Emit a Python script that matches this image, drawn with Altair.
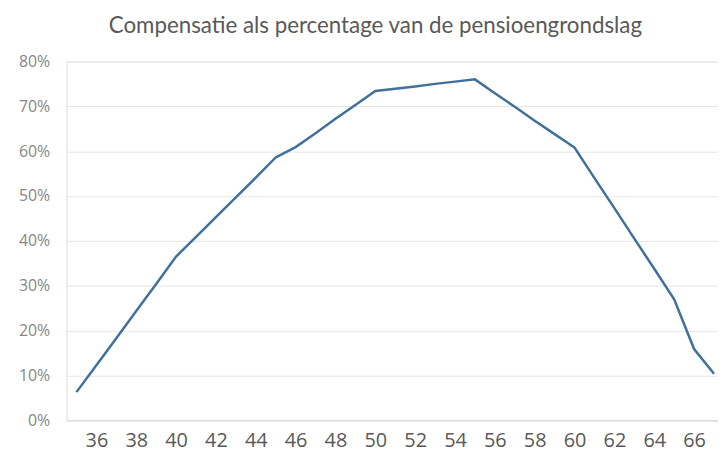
import altair as alt
import pandas as pd

# Data
ages = list(range(35, 68))
compensatie_pct = [6.3, 12.3, 18.3, 24.4, 30.4,
                   36.5, 40.9, 45.3, 49.7, 54.1,
                   58.6, 60.9, 64.0, 67.2, 70.3,
                   73.4, 73.9, 74.4, 75.0, 75.5,
                   76.0, 72.9, 69.9, 66.8, 63.8,
                   60.8, 54.0, 47.3, 40.5, 33.8,
                   27.0, 15.9, 10.4]
x_tick_labels = list(range(36, 67, 2))
y_tick_values = [0.0, 0.1, 0.2, 0.3, 0.4, 0.5, 0.6, 0.7, 0.8]
title_text = "Compensatie als percentage van de pensioengrondslag"

df = pd.DataFrame({"leeftijd": ages, "pct": [v / 100 for v in compensatie_pct]})

line = alt.Chart(df).mark_line(color="#41709a", strokeWidth=2.5).encode(
    x=alt.X("leeftijd:Q",
            scale=alt.Scale(domain=[34.5, 67.2], nice=False, zero=False),
            axis=alt.Axis(values=x_tick_labels, format="d", title=None, grid=False,
                          ticks=False, domain=True, domainColor="#d9d9d9",
                          labelFont="Open Sans", labelFontSize=20, labelColor="#595959",
                          labelPadding=10, labelFlush=False)),
    y=alt.Y("pct:Q",
            scale=alt.Scale(domain=[0, 0.8], nice=False),
            axis=alt.Axis(values=y_tick_values, format=".0%", title=None, grid=True,
                          gridColor="#e6e6e6", ticks=False, domain=False,
                          labelFont="Open Sans", labelFontSize=16, labelColor="#868686",
                          labelPadding=17)),
)

chart = line.properties(
    width=657,
    height=362,
    autosize=alt.AutoSizeParams(type="none"),
    padding={"left": 59, "top": 52, "right": 0, "bottom": 30},
    title=alt.TitleParams(title_text, font="Lato", fontSize=22.5, fontWeight="normal",
                          color="#595959", anchor="middle", dx=-17, offset=16),
).configure_view(stroke=None).configure(background="white")

chart.save("out.html", embed_options={"renderer": "svg", "actions": False})
